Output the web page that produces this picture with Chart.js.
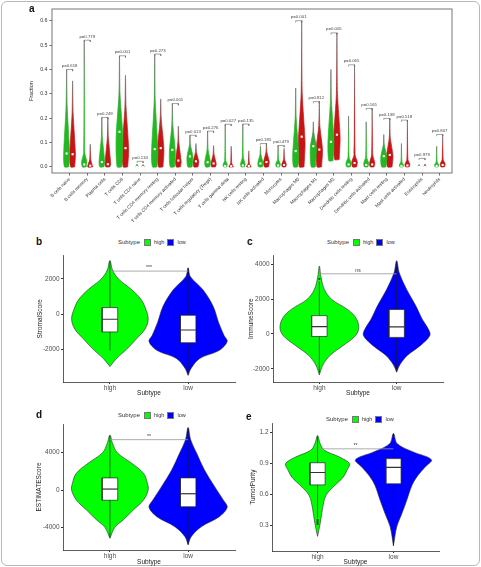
<!DOCTYPE html>
<html>
<head>
<meta charset="utf-8">
<script src="https://cdn.jsdelivr.net/npm/chart.js@4.4.1/dist/chart.umd.min.js"></script>
<style>
  body { margin: 0; background: #fff; font-family: "Liberation Sans", Arial, sans-serif; }
  #fig { position: relative; width: 481px; height: 567px; overflow: hidden; }
  #frame { position: absolute; left: 1px; top: 1px; width: 477px; height: 563px; border: 1px solid #b8b8b8; border-radius: 6px; }
  canvas { position: absolute; }
  .tag { position: absolute; font-weight: bold; font-size: 10px; color: #111; line-height: 10px; }
  .leg { position: absolute; display: flex; align-items: center; height: 8px; font-size: 5.5px; color: #333; white-space: nowrap; }
  .leg .ttl { font-size: 6px; margin-right: 4px; }
  .leg .sw { width: 7px; height: 7px; box-sizing: border-box; border: 0.6px solid #777; margin-right: 3px; }
  .leg .lbl { margin-right: 3px; }
</style>
</head>
<body>
<div id="fig">
  <div id="frame"></div>
  <canvas id="chartA" width="481" height="236" style="left:0;top:0"></canvas>
  <canvas id="chartB" width="240" height="150" style="left:0;top:250px"></canvas>
  <canvas id="chartC" width="241" height="150" style="left:240px;top:250px"></canvas>
  <canvas id="chartD" width="240" height="149" style="left:0;top:418px"></canvas>
  <canvas id="chartE" width="241" height="149" style="left:240px;top:418px"></canvas>
  <div class="tag" style="left:29px;top:4px">a</div>
  <div class="tag" style="left:36px;top:237px">b</div>
  <div class="tag" style="left:247px;top:237px">c</div>
  <div class="tag" style="left:36px;top:410px">d</div>
  <div class="tag" style="left:246px;top:412px">e</div>
</div>
<script>
// ---------- panel a : CIBERSORT fractions ----------
const cellTypes = ["B cells naive", "B cells memory", "Plasma cells", "T cells CD8", "T cells CD4 naive",
  "T cells CD4 memory resting", "T cells CD4 memory activated", "T cells follicular helper",
  "T cells regulatory (Tregs)", "T cells gamma delta", "NK cells resting", "NK cells activated",
  "Monocytes", "Macrophages M0", "Macrophages M1", "Macrophages M2", "Dendritic cells resting",
  "Dendritic cells activated", "Mast cells resting", "Mast cells activated", "Eosinophils", "Neutrophils"];
const fractionTicks = [0, 0.1, 0.2, 0.3, 0.4, 0.5, 0.6];
const pLabels = ["p=0.618", "p=0.779", "p=0.249", "p=0.001", "p=0.134", "p=0.273", "p=0.001", "p=0.013",
  "p=0.276", "p=0.027", "p=0.135", "p=0.185", "p=0.479", "p=0.001", "p=0.812", "p=0.005", "p=0.065",
  "p=0.165", "p=0.138", "p=0.518", "p=0.979", "p=0.807"];
const pBarAt = [0.40, 0.52, 0.203, 0.456, 0.023, 0.463, 0.26, 0.13, 0.147, 0.175, 0.176, 0.096, 0.088,
  0.60, 0.268, 0.55, 0.419, 0.24, 0.199, 0.192, 0.035, 0.133];
// high = green, low = red
const highTop = [0.40, 0.52, 0.203, 0.456, 0.012, 0.463, 0.26, 0.13, 0.147, 0.175, 0.176, 0.085, 0.088,
  0.324, 0.185, 0.40, 0.209, 0.185, 0.133, 0.096, 0.01, 0.085];
const lowTop = [0.353, 0.093, 0.203, 0.376, 0.01, 0.279, 0.168, 0.096, 0.088, 0.085, 0.066, 0.096, 0.076,
  0.60, 0.268, 0.55, 0.419, 0.24, 0.199, 0.192, 0.012, 0.133];
const highMedian = [0.055, 0.01, 0.02, 0.144, 0, 0.073, 0.07, 0.043, 0.019, 0.004, 0.006, 0.014, 0.006,
  0.065, 0.085, 0.103, 0.01, 0.008, 0.044, 0.004, 0, 0.004];
const lowMedian = [0.052, 0.005, 0.011, 0.077, 0, 0.077, 0.026, 0.023, 0.014, 0.003, 0.004, 0.02, 0.008,
  0.124, 0.071, 0.132, 0.016, 0.01, 0.049, 0.006, 0, 0.008];
const highPeak = [0.05, 0.02, 0.02, 0.12, 0, 0.06, 0.06, 0.04, 0.02, 0.01, 0.012, 0.015, 0.012,
  0.05, 0.08, 0.10, 0.015, 0.015, 0.04, 0.008, 0, 0.008];
const lowPeak = [0.05, 0.005, 0.012, 0.07, 0, 0.07, 0.02, 0.02, 0.012, 0.003, 0.005, 0.02, 0.01,
  0.10, 0.07, 0.12, 0.02, 0.015, 0.045, 0.01, 0, 0.012];
// where each violin has thinned down to a line
const highNeck = [0.25, 0.06, 0.12, 0.30, 0, 0.27, 0.17, 0.09, 0.07, 0.025, 0.04, 0.05, 0.03,
  0.20, 0.14, 0.27, 0.04, 0.04, 0.09, 0.02, 0, 0.02];
const lowNeck = [0.22, 0.03, 0.12, 0.25, 0, 0.20, 0.10, 0.06, 0.05, 0.015, 0.015, 0.06, 0.03,
  0.30, 0.17, 0.30, 0.05, 0.05, 0.12, 0.03, 0, 0.03];
const highWidth = [0.17, 0.15, 0.16, 0.19, 0.06, 0.18, 0.17, 0.17, 0.16, 0.12, 0.13, 0.15, 0.13,
  0.17, 0.17, 0.17, 0.15, 0.14, 0.17, 0.12, 0.05, 0.12];
const lowWidth = [0.16, 0.14, 0.16, 0.18, 0.06, 0.18, 0.16, 0.16, 0.15, 0.13, 0.13, 0.16, 0.13,
  0.19, 0.18, 0.18, 0.16, 0.15, 0.18, 0.14, 0.05, 0.14];
const highBase = [0, 0, 0, 0, 0, 0, 0, 0, 0, 0, 0, 0, 0, 0, 0, 0.025, 0, 0, 0, 0, 0, 0];
const lowBase = [0, 0, 0, 0, 0, 0, 0, 0, 0, 0, 0, 0, 0, 0, 0, 0.03, 0, 0, 0, 0, 0, 0];

// ---------- panels b-e : ESTIMATE scores ----------
const subtypes = ["high", "low"];
// violin outlines: [value, half width]
const stromalHigh = [[-2960, 0], [-2500, 0.085], [-2000, 0.21], [-1390, 0.34], [-830, 0.45], [-280, 0.49],
  [280, 0.46], [830, 0.40], [1390, 0.28], [2000, 0.11], [2500, 0.034], [3050, 0]];
const stromalLow = [[-3460, 0], [-3050, 0.04], [-2500, 0.15], [-2040, 0.40], [-1540, 0.50], [-1200, 0.46],
  [-460, 0.39], [460, 0.32], [1390, 0.19], [2130, 0.03], [2630, 0]];
const immuneHigh = [[-2360, 0], [-1790, 0.045], [-1230, 0.14], [-660, 0.31], [-90, 0.47], [380, 0.51],
  [940, 0.47], [1420, 0.36], [1980, 0.16], [2550, 0.065], [3300, 0.02], [3900, 0]];
const immuneLow = [[-2200, 0], [-1790, 0.04], [-1230, 0.14], [-660, 0.31], [-90, 0.43], [280, 0.41],
  [850, 0.33], [1600, 0.25], [2550, 0.13], [3490, 0.035], [4200, 0]];
const estimateHigh = [[-5180, 0], [-4000, 0.064], [-3210, 0.17], [-2140, 0.30], [-1070, 0.43], [0, 0.49],
  [710, 0.48], [1790, 0.43], [2860, 0.28], [4000, 0.094], [5000, 0.034], [5890, 0]];
const estimateLow = [[-5890, 0], [-5000, 0.04], [-3930, 0.17], [-2860, 0.40], [-1860, 0.50], [-1070, 0.45],
  [360, 0.34], [2140, 0.21], [3930, 0.11], [5360, 0.034], [6710, 0]];
const purityHigh = [[0.19, 0], [0.316, 0.035], [0.46, 0.066], [0.586, 0.11], [0.68, 0.22], [0.757, 0.33],
  [0.835, 0.39], [0.897, 0.42], [0.96, 0.29], [1.026, 0.09], [1.09, 0.035], [1.17, 0]];
const purityLow = [[0.10, 0], [0.285, 0.044], [0.41, 0.11], [0.54, 0.175], [0.68, 0.24], [0.77, 0.31],
  [0.865, 0.42], [0.935, 0.50], [1.01, 0.26], [1.09, 0.05], [1.19, 0]];
// boxes: [whisker low, q1, median, q3, whisker high]
const stromalBoxHigh = [-2050, -1000, -280, 380, 3000];
const stromalBoxLow = [-3400, -1610, -890, -55, 2600];
const immuneBoxHigh = [-2250, -150, 420, 1050, 3000];
const immuneBoxLow = [-2150, -200, 400, 1400, 4100];
const estimateBoxHigh = [-5100, -1100, 100, 1300, 5800];
const estimateBoxLow = [-5800, -1800, -400, 1300, 6600];
const purityBoxHigh = [0.37, 0.69, 0.81, 0.905, 1.16];
const purityBoxLow = [0.10, 0.70, 0.86, 0.945, 1.18];
const immuneOutHigh = [3150];
const purityOutHigh = [0.31, 0.33, 0.35];
const stromalTicks = [-2000, 0, 2000];
const immuneTicks = [-2000, 0, 2000, 4000];
const estimateTicks = [-4000, 0, 4000];
const purityTicks = [0.3, 0.6, 0.9, 1.2];

Chart.defaults.font.family = '"Liberation Sans", Arial, sans-serif';
Chart.defaults.animation = false;
Chart.defaults.responsive = false;
Chart.defaults.plugins.legend.display = false;
Chart.defaults.plugins.tooltip.enabled = false;

// text written at data positions (p-values, stars)
const notesPlugin = {
  id: "notes",
  afterDatasetsDraw(chart, args, opts) {
    const { ctx } = chart;
    const x = chart.scales.x, y = chart.scales.y;
    ctx.save();
    ctx.fillStyle = opts.color;
    ctx.font = opts.size + 'px "Liberation Sans", Arial, sans-serif';
    ctx.textAlign = "center";
    ctx.textBaseline = "bottom";
    opts.items.forEach(it => {
      ctx.fillText(it.text, x.getPixelForValue(it.x), y.getPixelForValue(it.y) - opts.lift);
    });
    ctx.restore();
  }
};

const framePlugin = {
  id: "frame",
  afterDraw(chart) {
    const { ctx, chartArea: a } = chart;
    ctx.save();
    ctx.strokeStyle = "#777";
    ctx.lineWidth = 1;
    ctx.strokeRect(a.left, a.top, a.right - a.left, a.bottom - a.top);
    ctx.restore();
  }
};

// closed outline of a violin, profile goes from bottom to top
function outline(c, prof) {
  const pts = prof.map(([v, w]) => ({ x: c + w, y: v }));
  for (let i = prof.length - 1; i >= 0; i--) {
    const [v, w] = prof[i];
    if (w === 0) continue;
    pts.push({ x: c - w, y: v });
  }
  pts.push(pts[0]);
  return pts;
}

function lineSet(points, color, width, order) {
  return { data: points, showLine: true, fill: false, borderColor: color, borderWidth: width,
    pointRadius: 0, tension: 0, order };
}

// ---------- panel a ----------
function tailGradient(ctx) {
  const chart = ctx.chart, ds = ctx.dataset;
  if (!chart.chartArea || !ds) return "#888";
  const y = chart.scales.y;
  const y0 = y.getPixelForValue(ds.vBase), y1 = y.getPixelForValue(ds.vTop);
  if (Math.abs(y0 - y1) < 2) return ds.vColor;
  const g = chart.ctx.createLinearGradient(0, y0, 0, y1);
  g.addColorStop(0, ds.vColor);
  g.addColorStop(0.45, ds.vColor);
  g.addColorStop(1, "#6e6e6e");
  return g;
}

function cellViolin(c, base, peak, neck, top, w, color) {
  let prof;
  if (top - base < 0.02) prof = [[base, w], [top, 0]];
  else if (peak - base < 0.006) prof = [[base, w], [neck, 0.03], [top, 0]];
  else prof = [[base, w * 0.7], [peak, w], [neck, 0.03], [top, 0]];
  return { data: outline(c, prof), showLine: true, fill: "shape", tension: 0.25,
    backgroundColor: tailGradient, borderColor: tailGradient, borderWidth: 0.7,
    pointRadius: 0, order: 5, vTop: top, vBase: base, vColor: color };
}

const aSets = [];
cellTypes.forEach((name, i) => {
  aSets.push(cellViolin(i - 0.17, highBase[i], highPeak[i], highNeck[i], highTop[i], highWidth[i], "#22b822"));
  aSets.push(cellViolin(i + 0.17, lowBase[i], lowPeak[i], lowNeck[i], lowTop[i], lowWidth[i], "#c81414"));
  const b = pBarAt[i];
  aSets.push(lineSet([{ x: i - 0.17, y: b - 0.007 }, { x: i - 0.17, y: b }, { x: i + 0.17, y: b },
    { x: i + 0.17, y: b - 0.007 }], "#666", 0.6, 3));
});
aSets.push({ data: cellTypes.map((n, i) => ({ x: i - 0.17, y: highMedian[i] }))
  .concat(cellTypes.map((n, i) => ({ x: i + 0.17, y: lowMedian[i] }))),
  pointStyle: "rect", pointRadius: 1.5, pointBackgroundColor: "#fff", pointBorderWidth: 0, order: 1 });

new Chart(document.getElementById("chartA"), {
  type: "scatter",
  data: { datasets: aSets },
  options: {
    layout: { padding: { top: 9, right: 29, left: 0, bottom: 0 } },
    scales: {
      x: {
        type: "linear", min: -1, max: 21.7,
        afterBuildTicks: s => { s.ticks = cellTypes.map((n, i) => ({ value: i })); },
        afterFit: s => { s.height = 63; },
        ticks: { callback: v => cellTypes[v], autoSkip: false, minRotation: 45, maxRotation: 45,
          font: { size: 4.6 }, color: "#333", padding: 1 },
        grid: { display: true, drawOnChartArea: false, tickLength: 2.5, color: "#666" },
        border: { display: false }
      },
      y: {
        min: -0.025, max: 0.648,
        afterBuildTicks: s => { s.ticks = fractionTicks.map(v => ({ value: v })); },
        afterFit: s => { s.width = 52; },
        ticks: { callback: v => v.toFixed(1), font: { size: 5.3 }, color: "#333", padding: 2 },
        grid: { display: true, drawOnChartArea: false, tickLength: 2.5, color: "#666" },
        border: { display: false },
        title: { display: true, text: "Fraction", font: { size: 5.5 }, color: "#222", padding: { top: 27.7, bottom: 0 } }
      }
    },
    plugins: {
      notes: { size: 4.3, color: "#444", lift: 1.5,
        items: cellTypes.map((n, i) => ({ x: i, y: pBarAt[i], text: pLabels[i] })) }
    }
  },
  plugins: [notesPlugin, framePlugin]
});

// ---------- panels b-e ----------
function scorePanel(id, p) {
  const hw = 0.1;
  const box = (c, b) => ({ data: [{ x: c - hw, y: b[1] }, { x: c + hw, y: b[1] }, { x: c + hw, y: b[3] },
    { x: c - hw, y: b[3] }, { x: c - hw, y: b[1] }], showLine: true, fill: "shape", backgroundColor: "#fff",
    borderColor: "#222", borderWidth: 0.7, pointRadius: 0, tension: 0, order: 3 });
  const violin = (c, prof, color) => ({ data: outline(c, prof), showLine: true, fill: "shape", tension: 0.35,
    backgroundColor: color, borderColor: "#2a2a2a", borderWidth: 0.6, pointRadius: 0, order: 6 });
  const datasets = [
    violin(1, p.high, "#00ff00"),
    violin(2, p.low, "#0000ff"),
    lineSet([{ x: 1, y: p.boxHigh[0] }, { x: 1, y: p.boxHigh[4] }], "#1a1a1a", 0.7, 4),
    lineSet([{ x: 2, y: p.boxLow[0] }, { x: 2, y: p.boxLow[4] }], "#1a1a1a", 0.7, 4),
    box(1, p.boxHigh),
    box(2, p.boxLow),
    lineSet([{ x: 1 - hw, y: p.boxHigh[2] }, { x: 1 + hw, y: p.boxHigh[2] }], "#333", 1.2, 2),
    lineSet([{ x: 2 - hw, y: p.boxLow[2] }, { x: 2 + hw, y: p.boxLow[2] }], "#333", 1.2, 2),
    { data: p.outHigh.map(v => ({ x: 1, y: v })), pointRadius: 1, pointBackgroundColor: "#111",
      pointBorderWidth: 0, order: 1 },
    lineSet([{ x: 1, y: p.sigY }, { x: 2, y: p.sigY }], "#999", 0.8, 1)
  ];
  new Chart(document.getElementById(id), {
    type: "scatter",
    data: { datasets },
    options: {
      layout: { padding: p.pad },
      scales: {
        x: {
          type: "linear", min: 0.4, max: 2.6,
          afterBuildTicks: s => { s.ticks = subtypes.map((n, i) => ({ value: i + 1 })); },
          afterFit: s => { s.height = p.xh; },
          ticks: { callback: v => subtypes[v - 1], font: { size: 6.5 }, color: "#4d4d4d", maxRotation: 0, padding: 0.5 },
          grid: { display: true, drawOnChartArea: false, tickLength: 2, color: "#333" },
          border: { color: "#333", width: 0.8 },
          title: { display: true, text: "Subtype", font: { size: 6.5 }, color: "#222", padding: { top: 0, bottom: p.xtp } }
        },
        y: {
          min: p.yMin, max: p.yMax,
          afterBuildTicks: s => { s.ticks = p.ticks.map(v => ({ value: v })); },
          afterFit: s => { s.width = p.yw; },
          ticks: { callback: p.fmt, font: { size: 6.5 }, color: "#4d4d4d", padding: 1.5 },
          grid: { display: true, drawOnChartArea: false, tickLength: 2, color: "#333" },
          border: { color: "#333", width: 0.8 },
          title: { display: true, text: p.yTitle, font: { size: 6.5 }, color: "#222", padding: { top: p.ytp, bottom: 0 } }
        }
      },
      plugins: { notes: { size: 5, color: "#333", lift: 0.5, items: [{ x: 1.5, y: p.sigY, text: p.sigText }] } }
    },
    plugins: [notesPlugin]
  });
}

const intFmt = v => String(v);
scorePanel("chartB", { high: stromalHigh, low: stromalLow, boxHigh: stromalBoxHigh, boxLow: stromalBoxLow,
  outHigh: [], sigY: 2444, sigText: "***", yTitle: "StromalScore", yMin: -3833, yMax: 3333, ticks: stromalTicks,
  fmt: intFmt, pad: { top: 3, right: 5, left: 0, bottom: 0 }, yw: 63, xh: 18, ytp: 36, xtp: 3.1 });
scorePanel("chartC", { high: immuneHigh, low: immuneLow, boxHigh: immuneBoxHigh, boxLow: immuneBoxLow,
  outHigh: immuneOutHigh, sigY: 3450, sigText: "ns", yTitle: "ImmuneScore", yMin: -2761, yMax: 4507, ticks: immuneTicks,
  fmt: intFmt, pad: { top: 3, right: 38, left: 0, bottom: 0 }, yw: 33, xh: 18, ytp: 7, xtp: 2.8 });
scorePanel("chartD", { high: estimateHigh, low: estimateLow, boxHigh: estimateBoxHigh, boxLow: estimateBoxLow,
  outHigh: [], sigY: 5400, sigText: "**", yTitle: "ESTIMATEScore", yMin: -6434, yMax: 7078, ticks: estimateTicks,
  fmt: intFmt, pad: { top: 6, right: 5, left: 0, bottom: 0 }, yw: 63, xh: 17, ytp: 35.4, xtp: 1.1 });
scorePanel("chartE", { high: purityHigh, low: purityLow, boxHigh: purityBoxHigh, boxLow: purityBoxLow,
  outHigh: purityOutHigh, sigY: 1.04, sigText: "**", yTitle: "TumorPurity", yMin: 0.048, yMax: 1.287, ticks: purityTicks,
  fmt: v => v.toFixed(1), pad: { top: 5, right: 42, left: 0, bottom: 0 }, yw: 32, xh: 16, ytp: 9.4, xtp: 0.8 });

// legends (Subtype: high / low)
function legend(left, top) {
  const d = document.createElement("div");
  d.className = "leg";
  d.style.left = left + "px";
  d.style.top = top + "px";
  d.innerHTML = '<span class="ttl">Subtype</span><span class="sw" style="background:#00ff00"></span>' +
    '<span class="lbl">high</span><span class="sw" style="background:#0000ff"></span><span class="lbl">low</span>';
  document.getElementById("fig").appendChild(d);
}
legend(118, 238);
legend(327, 238);
legend(118, 411);
legend(326, 415);
</script>
</body>
</html>
